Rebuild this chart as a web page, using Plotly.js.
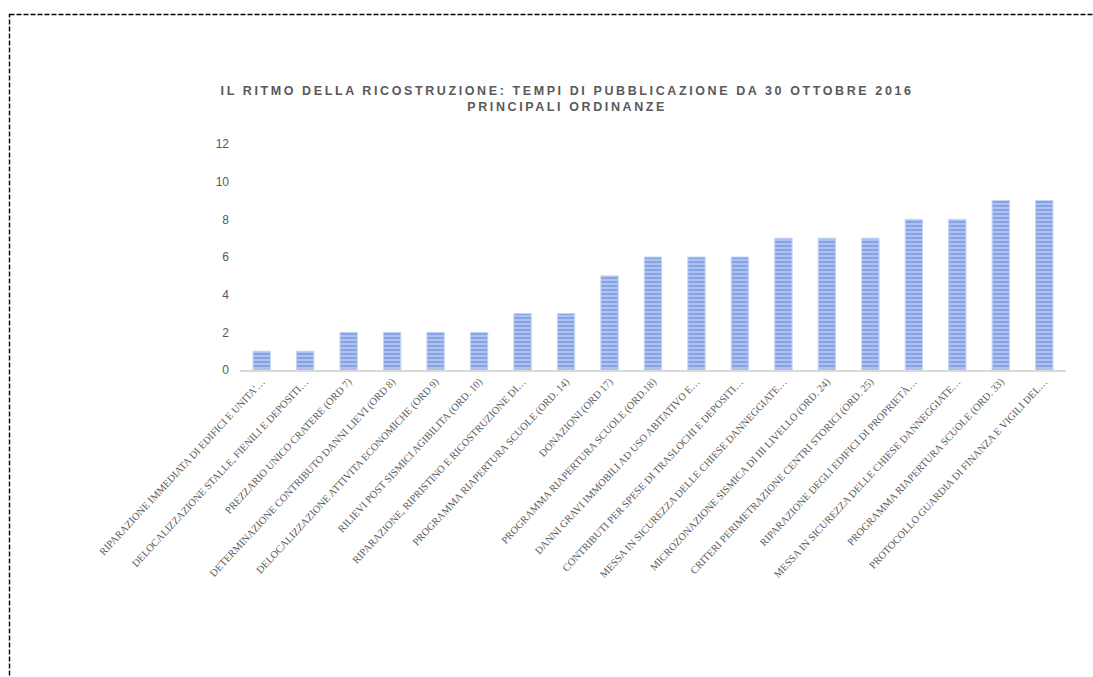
<!DOCTYPE html>
<html>
<head>
<meta charset="utf-8">
<script src="https://cdn.plot.ly/plotly-3.0.1.min.js"></script>
<style>
  html, body { margin: 0; padding: 0; background: #fff; overflow: hidden; }
  #chart { position: absolute; left: 0; top: 0; width: 1093px; height: 677px; }
  #frame { position: absolute; left: 0; top: 0; pointer-events: none; }
  .gtitle { letter-spacing: 2.6px; }
</style>
</head>
<body>
<div id="chart"></div>
<svg id="frame" width="1093" height="677">
  <rect x="9.5" y="14.5" width="1200" height="800" fill="none" stroke="#000" stroke-width="1.4" stroke-dasharray="5,2"></rect>
</svg>
<script>
const categories = [
  "RIPARAZIONE IMMEDIATA DI EDIFICI E UNITA'…",
  "DELOCALIZZAZIONE STALLE, FIENILI E DEPOSITI…",
  "PREZZARIO UNICO CRATERE (ORD 7)",
  "DETERMINAZIONE CONTRIBUTO DANNI LIEVI (ORD 8)",
  "DELOCALIZZAZIONE ATTIVITA ECONOMICHE (ORD 9)",
  "RILIEVI POST SISMICI AGIBILITA (ORD. 10)",
  "RIPARAZIONE, RIPRISTINO E RICOSTRUZIONE DI…",
  "PROGRAMMA RIAPERTURA SCUOLE (ORD. 14)",
  "DONAZIONI (ORD 17)",
  "PROGRAMMA RIAPERTURA SCUOLE (ORD.18)",
  "DANNI GRAVI IMMOBILI AD USO ABITATIVO E…",
  "CONTRIBUTI PER SPESE DI TRASLOCHI E DEPOSITI…",
  "MESSA IN SICUREZZA DELLE CHIESE DANNEGGIATE…",
  "MICROZONAZIONE SISMICA DI III LIVELLO (ORD. 24)",
  "CRITERI PERIMETRAZIONE CENTRI STORICI (ORD. 25)",
  "RIPARAZIONE DEGLI EDIFICI DI PROPRIETÀ…",
  "MESSA IN SICUREZZA DELLE CHIESE DANNEGGIATE…",
  "PROGRAMMA RIAPERTURA SCUOLE (ORD. 33)",
  "PROTOCOLLO GUARDIA DI FINANZA E VIGILI DEL…"
];
const months = [1, 1, 2, 2, 2, 2, 3, 3, 5, 6, 6, 6, 7, 7, 7, 8, 8, 9, 9];
const yTicks = [0, 2, 4, 6, 8, 10, 12];
const titleLines = [
  "IL RITMO DELLA RICOSTRUZIONE: TEMPI DI PUBBLICAZIONE DA 30 OTTOBRE 2016",
  "PRINCIPALI ORDINANZE"
];

const positions = categories.map((_, i) => i);

const trace = {
  type: 'bar',
  x: positions,
  y: months,
  width: 0.4,
  marker: {
    color: '#adc2ef',
    line: { color: '#c6d5f5', width: 1 },
    pattern: { shape: '-', fgcolor: '#6d8fdb', bgcolor: '#adc2ef', size: 4, solidity: 0.3 }
  },
  hoverinfo: 'skip'
};

const layout = {
  width: 1093,
  height: 677,
  margin: { l: 240, r: 27, t: 144, b: 307 },
  paper_bgcolor: 'rgba(0,0,0,0)',
  plot_bgcolor: 'rgba(0,0,0,0)',
  showlegend: false,
  title: {
    text: titleLines.join('<br>'),
    x: 0.396,
    xref: 'paper',
    xanchor: 'center',
    y: 0.860,
    yref: 'container',
    yanchor: 'middle',
    font: { family: 'Liberation Sans, Arial, sans-serif', size: 12.5, color: '#595959', weight: 'bold' }
  },
  xaxis: {
    range: [-0.5, categories.length - 0.5],
    tickmode: 'array',
    tickvals: positions,
    ticktext: categories,
    tickangle: -47,
    tickfont: { family: 'Liberation Serif, Times New Roman, serif', size: 10.4, color: '#595959' },
    showgrid: false,
    zeroline: false,
    showline: true,
    linecolor: '#d9d9d9',
    linewidth: 1.5,
    ticks: '',
    fixedrange: true
  },
  yaxis: {
    range: [0, 12],
    tickmode: 'array',
    tickvals: yTicks,
    ticktext: yTicks.map(String),
    tickfont: { family: 'Liberation Sans, Arial, sans-serif', size: 12, color: '#595959' },
    showgrid: false,
    zeroline: false,
    showline: false,
    ticks: '',
    ticklabelstandoff: 10,
    fixedrange: true
  }
};

Plotly.newPlot('chart', [trace], layout, { displayModeBar: false, staticPlot: true });
</script>
</body>
</html>
